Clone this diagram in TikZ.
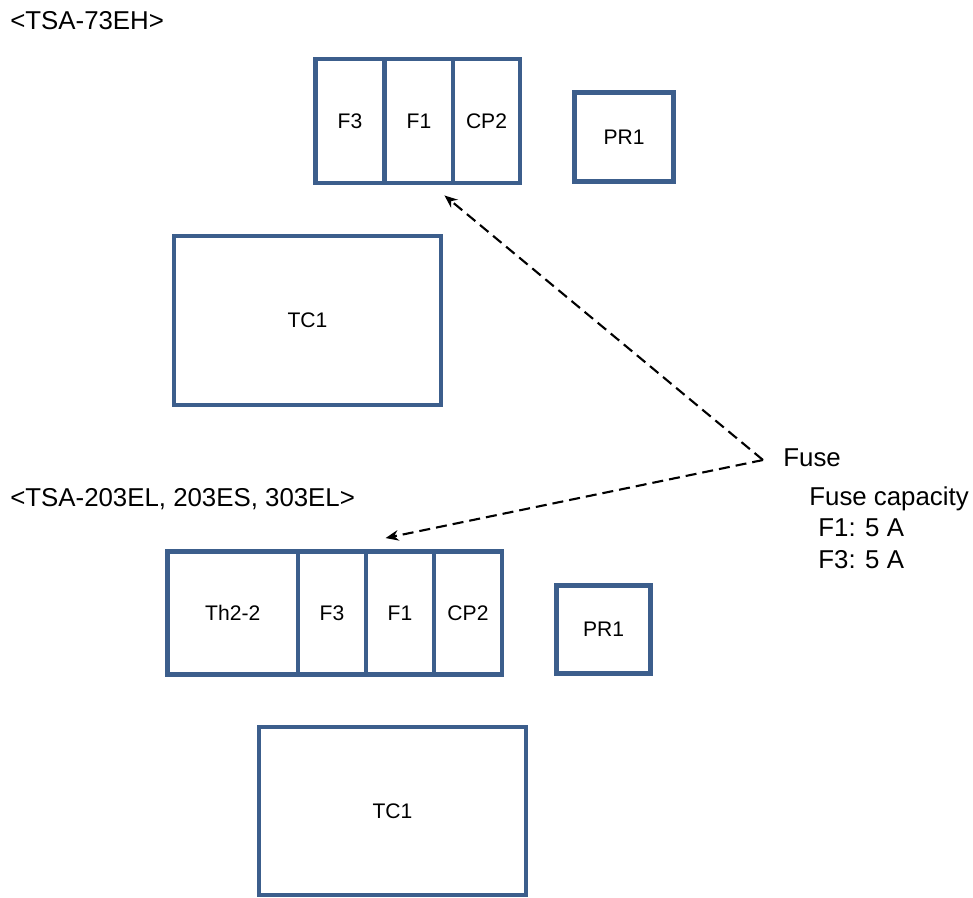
\documentclass[tikz,border=0pt]{standalone}
\usepackage{fontspec}
\setmainfont{Liberation Sans}
\usepackage{xcolor}
\usepackage{tikz}
\usetikzlibrary{arrows.meta, calc}
\definecolor{boxblue}{RGB}{60, 94, 140}

\begin{document}
\begin{tikzpicture}[
  x=0.02cm, y=-0.02cm,
  every node/.style={font=\fontsize{12}{14}\selectfont},
  part/.style={draw=boxblue, line width=2.8pt, minimum height=2.48cm, inner sep=0pt},
  relay/.style={draw=boxblue, line width=2.8pt, inner sep=0pt},
  title/.style={anchor=base west, inner sep=0pt, font=\fontsize{14.7}{17}\selectfont},
  arrow/.style={-{Stealth[length=2.6mm, width=2.1mm]}, line width=1.2pt, dash pattern=on 0.22cm off 0.12cm}
]
  \useasboundingbox (0,0) rectangle (973,897);

  % Upper board
  \node[title] (t1) at (10,29) {<TSA-73EH>};
  \node[part, minimum width=1.38cm] (F3a) at (350,121) {F3};
  \node[part, minimum width=1.36cm] (F1a) at (419,121) {F1};
  \node[part, minimum width=1.34cm] (CP2a) at (486.5,121) {CP2};
  \node[relay, minimum width=1.97cm, minimum height=1.77cm] (PR1a) at (624,137) {PR1};
  \node[relay, minimum width=5.34cm, minimum height=3.38cm] (TC1a) at (307.5,320.5) {TC1};

  % Lower board
  \node[title] (t2) at (10,506) {<TSA-203EL, 203ES, 303EL>};
  \node[part, minimum width=2.61cm, minimum height=2.46cm] (Thb) at (232.75,613) {Th2-2};
  \node[part, minimum width=1.36cm, minimum height=2.46cm] (F3b) at (332,613) {F3};
  \node[part, minimum width=1.36cm, minimum height=2.46cm] (F1b) at (400,613) {F1};
  \node[part, minimum width=1.36cm, minimum height=2.46cm] (CP2b) at (468,613) {CP2};
  \node[relay, minimum width=1.88cm, minimum height=1.76cm] (PR1b) at (603.5,629.6) {PR1};
  \node[relay, minimum width=5.34cm, minimum height=3.36cm] (TC1b) at (392.5,811) {TC1};

  % Fuse note
  \coordinate (hub) at (763,460);
  \node[title] (fuse) at (783,466) {Fuse};
  \node[title] (cap) at (809,505) {Fuse capacity};
  \node[title] (capF1) at (818,536) {F1: 5 A};
  \node[title] (capF3) at (818,568) {F3: 5 A};

  \draw[arrow] (hub) -- ($(F1a.south east)+(-11,10)$);
  \draw[arrow] (hub) -- ($(F1b.north west)+(22,-11)$);

\end{tikzpicture}
\end{document}
